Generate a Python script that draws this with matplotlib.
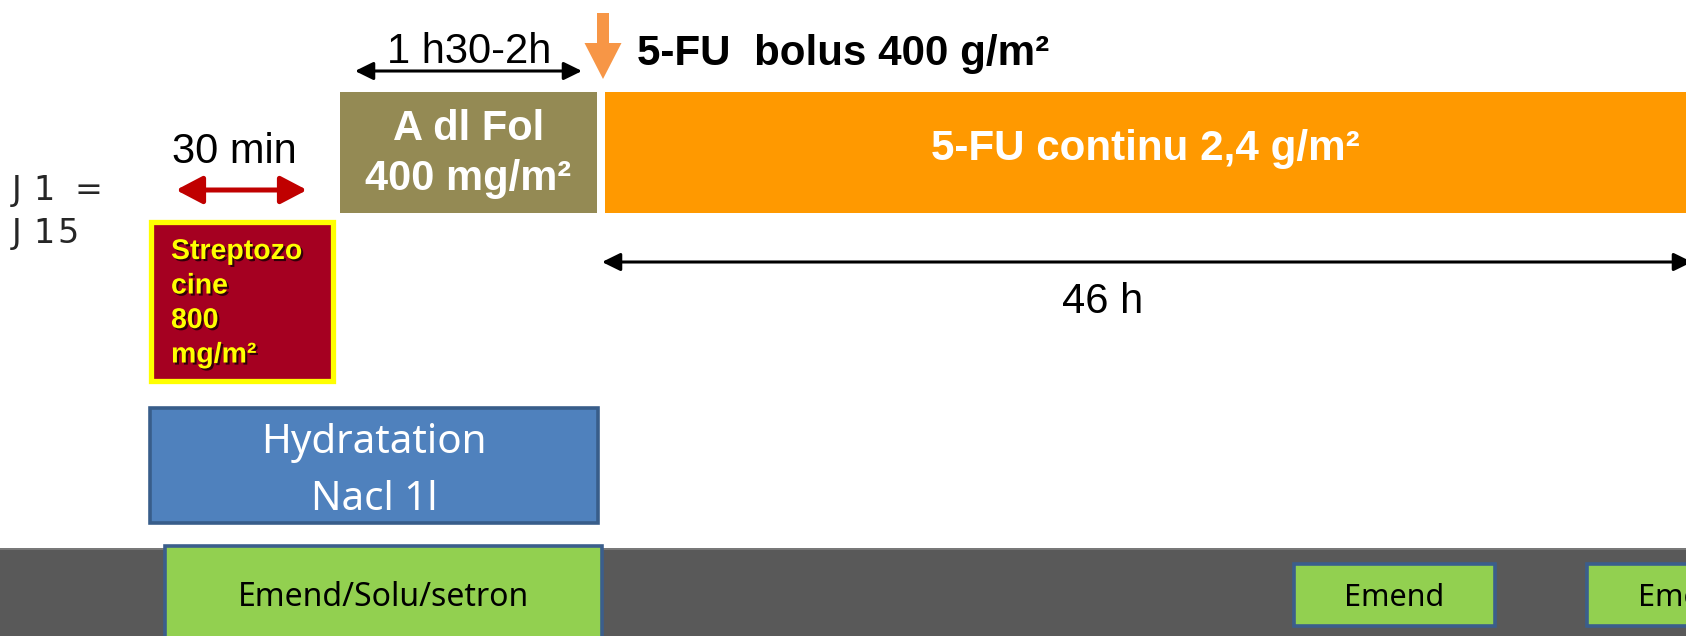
import matplotlib
matplotlib.use("Agg")
import matplotlib.pyplot as plt
from matplotlib.patches import Rectangle, FancyArrowPatch
import matplotlib.patheffects as pe

# schéma du protocole (unités = px de la diapo)
W, H = 1686, 636

# perfusions de la ligne du haut
perf_labels = ["A dl Fol\n400 mg/m²", "5-FU continu 2,4 g/m²"]
perf_x0 = [340, 605]
perf_x1 = [597, 1686]
perf_colors = ["#948A54", "#FF9900"]

# durées
duree_labels = ["1 h30-2h", "30 min", "46 h"]
duree_x0 = [355, 176, 602]
duree_x1 = [582, 307, 1692]

# streptozocine
strepto_lines = ["Streptozo", "cine", "800", "mg/m²"]

# hydratation
hydra_label = "Hydratation\nNacl 1l"

# antiémétiques (bande du bas)
anti_labels = ["Emend/Solu/setron", "Emend", "Emend"]
anti_x0 = [165, 1294, 1587]
anti_x1 = [602, 1495, 1790]

# jours du cycle
jours = ["J1=", "J15"]

fig = plt.figure(figsize=(W / 100, H / 100), dpi=100)
ax = fig.add_axes([0, 0, 1, 1])
ax.set_xlim(0, W)
ax.set_ylim(H, 0)
ax.axis('off')

arial = "Liberation Sans"
calibri = "Noto Sans"

# bande grise du bas
ax.add_patch(Rectangle((0, 548), W, H - 548, facecolor="#595959", edgecolor="none", zorder=1))
ax.plot([0, W], [548.5, 548.5], color="#7F7F7F", lw=1.2, zorder=1)

for lab, a, b in zip(anti_labels, anti_x0, anti_x1):
    top = 546 if lab.startswith("Emend/") else 564
    bot = 640 if lab.startswith("Emend/") else 626
    fs = 23 if lab.startswith("Emend/") else 22
    ax.add_patch(Rectangle((a, top), b - a, bot - top, facecolor="#92D050",
                           edgecolor="#3B5E8C", lw=2.6, zorder=2))
    ax.text((a + b) / 2, 606, lab, family=calibri, fontsize=fs,
            ha='center', va='baseline', color="black", zorder=3)

# hydratation
ax.add_patch(Rectangle((149.5, 407.5), 448, 115, facecolor="#4F81BD",
                       edgecolor="#385D8A", lw=2.6, zorder=2))
for i, ligne in enumerate(hydra_label.split("\n")):
    ax.text(374, [453, 510][i], ligne, family=calibri, fontsize=29,
            ha='center', va='baseline', color="white", zorder=3)

# streptozocine
ax.add_patch(Rectangle((150.5, 221.5), 182, 159, facecolor="#A50021",
                       edgecolor="#FFFF00", lw=3.8, zorder=2))
ombre = [pe.SimplePatchShadow(offset=(1.5, -1.5), shadow_rgbFace="black", alpha=0.7),
         pe.Normal()]
for i, ligne in enumerate(strepto_lines):
    ax.text(171, 259 + 34.5 * i, ligne, family=arial, fontweight='bold', fontsize=20.5,
            ha='left', va='baseline', color="#FFFF00", zorder=3, path_effects=ombre)

# perfusions
for lab, a, b, c in zip(perf_labels, perf_x0, perf_x1, perf_colors):
    ax.add_patch(Rectangle((a, 92), b - a, 121, facecolor=c, edgecolor="none", zorder=2))
lignes = perf_labels[0].split("\n")
ax.text((perf_x0[0] + perf_x1[0]) / 2, 140, lignes[0], family=arial, fontweight='bold',
        fontsize=30, ha='center', va='baseline', color="white", zorder=3)
ax.text((perf_x0[0] + perf_x1[0]) / 2, 190, lignes[1], family=arial, fontweight='bold',
        fontsize=30, ha='center', va='baseline', color="white", zorder=3)
ax.text(1145, 160, perf_labels[1], family=arial, fontweight='bold', fontsize=30.3,
        ha='center', va='baseline', color="white", zorder=3)

# flèches de durée
y_fl = [71, 190, 262]
y_txt = [63, 163, 313]
x_txt = [469, 234, 1103]
for i, (lab, a, b) in enumerate(zip(duree_labels, duree_x0, duree_x1)):
    if i == 1:
        st = "<|-|>,head_length=0.8,head_width=0.42"
        col, lw = "#C00000", 3.6
    else:
        st = "<|-|>,head_length=0.55,head_width=0.27"
        col, lw = "black", 2.2
    ax.add_patch(FancyArrowPatch((a, y_fl[i]), (b, y_fl[i]), arrowstyle=st,
                                 mutation_scale=20, color=col, lw=lw,
                                 shrinkA=0, shrinkB=0, zorder=4))
    ax.text(x_txt[i], y_txt[i], lab, family=arial, fontsize=30,
            ha='center', va='baseline', color="black", zorder=4)

# bolus 5-FU
ax.arrow(603, 13, 0, 66, width=12, head_width=37, head_length=36,
         length_includes_head=True, color="#F79646", lw=0, zorder=4)
ax.text(637, 65, "5-FU  bolus 400 g/m²", family=arial, fontweight='bold', fontsize=30.3,
        ha='left', va='baseline', color="black", zorder=4)

# jours, lettres espacées
pos_lettres = [[12, 33, 74], [12, 33, 57]]
for mot, xs, yb in zip(jours, pos_lettres, [200, 243]):
    for ch, x in zip(mot, xs):
        ax.text(x, yb, ch, family="DejaVu Sans", fontsize=24, color="#262626",
                ha='left', va='baseline')

fig.savefig("out.png", dpi=100)
